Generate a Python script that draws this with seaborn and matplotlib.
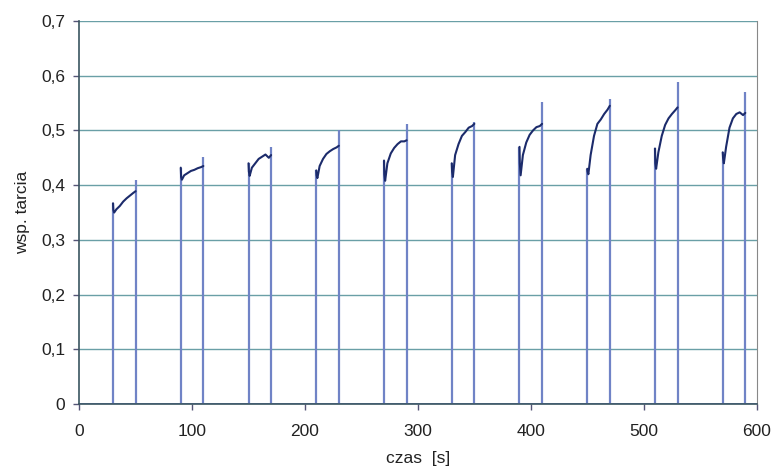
import numpy as np
import pandas as pd
import seaborn as sns
import matplotlib
matplotlib.use("Agg")
import matplotlib.pyplot as plt
from matplotlib.ticker import FuncFormatter

# pulse start times [s], each pulse lasts 20 s
starts = [30, 90, 150, 210, 270, 330, 390, 450, 510, 570]
duration = 20
# time offsets inside a pulse where the trace was read
offsets = [0, 0.3, 1, 3, 6, 9, 12, 15, 18, 20]
# friction coefficient read at those offsets, one list per pulse
mu_1 = [0.367, 0.355, 0.350, 0.356, 0.362, 0.370, 0.376, 0.381, 0.386, 0.389]
mu_2 = [0.432, 0.415, 0.410, 0.418, 0.422, 0.426, 0.428, 0.431, 0.433, 0.435]
mu_3 = [0.440, 0.425, 0.417, 0.432, 0.440, 0.448, 0.452, 0.456, 0.450, 0.455]
mu_4 = [0.427, 0.418, 0.413, 0.435, 0.448, 0.457, 0.462, 0.466, 0.469, 0.472]
mu_5 = [0.445, 0.420, 0.408, 0.440, 0.458, 0.468, 0.475, 0.480, 0.480, 0.482]
mu_6 = [0.440, 0.425, 0.415, 0.455, 0.475, 0.490, 0.497, 0.505, 0.508, 0.512]
mu_7 = [0.470, 0.440, 0.418, 0.455, 0.478, 0.492, 0.500, 0.506, 0.508, 0.512]
mu_8 = [0.430, 0.425, 0.420, 0.455, 0.490, 0.512, 0.520, 0.530, 0.538, 0.545]
mu_9 = [0.467, 0.440, 0.430, 0.460, 0.490, 0.510, 0.522, 0.530, 0.537, 0.542]
mu_10 = [0.460, 0.450, 0.440, 0.470, 0.505, 0.522, 0.530, 0.533, 0.528, 0.532]
# spike at the end of each pulse
spikes = [0.41, 0.452, 0.47, 0.50, 0.512, 0.515, 0.552, 0.558, 0.588, 0.57]

pulses = [mu_1, mu_2, mu_3, mu_4, mu_5, mu_6, mu_7, mu_8, mu_9, mu_10]

rows = []
for i, (t0, mu) in enumerate(zip(starts, pulses)):
    for dt, v in zip(offsets, mu):
        rows.append({"pulse": i, "t": t0 + dt, "mu": v})
df = pd.DataFrame(rows)

sns.set_style("white")
plt.rcParams["font.family"] = ["Liberation Sans", "DejaVu Sans"]

fig = plt.figure(figsize=(7.76, 4.75), dpi=100)
ax = fig.add_axes([0.102, 0.149, 0.873, 0.807])

grid_c = "#6a9fa6"
for y in np.arange(0.1, 0.71, 0.1):
    ax.axhline(y, color=grid_c, lw=1.0, zorder=1)

# vertical edges of the pulses (rise and end spike)
ax.vlines(starts, 0, [p[0] for p in pulses], color="#7083c6", lw=1.6, zorder=2)
ax.vlines([s + duration for s in starts], 0, spikes, color="#7083c6", lw=1.6, zorder=2)
# baseline
ax.plot([0, 600], [0, 0], color="#7083c6", lw=1.4, zorder=2)

sns.lineplot(data=df, x="t", y="mu", units="pulse", estimator=None, sort=False,
             color="#1c2b6b", lw=1.5, ax=ax, zorder=3)

ax.set_xlim(0, 600)
ax.set_ylim(0, 0.7)
ax.set_xticks(range(0, 601, 100))
ax.set_yticks(np.arange(0, 0.71, 0.1))
ax.yaxis.set_major_formatter(FuncFormatter(
    lambda v, p: "0" if abs(v) < 1e-9 else f"{v:.1f}".replace(".", ",")))
ax.tick_params(axis="both", direction="out", length=4, width=1, color="#557",
               labelsize=12.5, colors="#222")
ax.tick_params(axis="x", pad=10)
ax.tick_params(axis="y", pad=6)
ax.xaxis.set_ticks_position("bottom")
ax.yaxis.set_ticks_position("left")

for side in ["left", "bottom"]:
    ax.spines[side].set_color("#3a5560")
    ax.spines[side].set_linewidth(1.2)
ax.spines["right"].set_color("#888888")
ax.spines["top"].set_visible(False)

ax.set_xlabel("czas  [s]", fontsize=12.5, color="#222", labelpad=9)
ax.set_ylabel("wsp. tarcia", fontsize=12.5, color="#222", labelpad=8)

fig.savefig("out.png", dpi=100)
